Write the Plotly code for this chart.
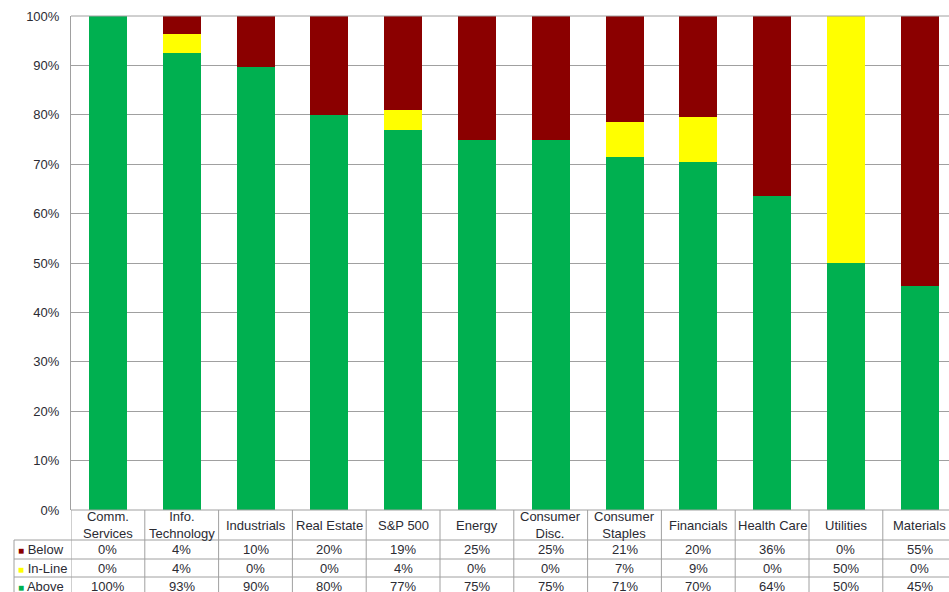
import plotly.graph_objects as go

categories = ["Comm. Services", "Info. Technology", "Industrials", "Real Estate", "S&P 500",
              "Energy", "Consumer Disc.", "Consumer Staples", "Financials", "Health Care",
              "Utilities", "Materials"]
header_labels = ["Comm.<br>Services", "Info.<br>Technology", "Industrials", "Real Estate", "S&P 500",
                 "Energy", "Consumer<br>Disc.", "Consumer<br>Staples", "Financials", "Health Care",
                 "Utilities", "Materials"]
above = [100.0, 92.6, 89.7, 80.0, 76.9, 75.0, 75.0, 71.4, 70.4, 63.6, 50.0, 45.4]
inline = [0.0, 3.7, 0.0, 0.0, 4.0, 0.0, 0.0, 7.2, 9.1, 0.0, 50.0, 0.0]
below = [0.0, 3.7, 10.3, 20.0, 19.1, 25.0, 25.0, 21.4, 20.4, 36.4, 0.0, 54.6]
y_ticks = [0, 10, 20, 30, 40, 50, 60, 70, 80, 90, 100]

GREEN = "#00B050"
YELLOW = "#FFFF00"
RED = "#8B0000"
GRID = "#A0A0A0"
TXT = "#2b2b33"
FONT = "Liberation Sans, Arial, sans-serif"
FS = 13

W, H = 949, 592
ML, MT, MB = 71, 16, 82
plot_h = H - MT - MB
plot_w = W - ML

x = list(range(len(categories)))
fig = go.Figure()
for name, vals, col in [("Above", above, GREEN), ("In-Line", inline, YELLOW), ("Below", below, RED)]:
    fig.add_trace(go.Bar(x=x, y=vals, name=name, marker=dict(color=col, line=dict(width=0)),
                         width=0.515, hoverinfo="y+name"))

xmax = -0.5 + plot_w / 73.8

fig.update_layout(
    width=W, height=H, barmode="stack", showlegend=False,
    margin=dict(l=ML, r=0, t=MT, b=MB),
    plot_bgcolor="white", paper_bgcolor="white",
    font=dict(family=FONT, size=FS, color=TXT),
    xaxis=dict(range=[-0.5, xmax], showticklabels=False, showgrid=False, zeroline=False,
               showline=False, fixedrange=True),
    yaxis=dict(range=[0, 100], tickvals=y_ticks, ticktext=[f"{v}%" for v in y_ticks],
               showgrid=True, gridcolor=GRID, gridwidth=1, zeroline=False,
               showline=True, linecolor=GRID, linewidth=1, ticks="", ticklen=0,
               ticklabelstandoff=8,
               tickfont=dict(size=FS, color=TXT), fixedrange=True),
)

shapes = []
def py2paper(py):
    return (H - MB - py) / plot_h

shapes.append(dict(type="line", xref="paper", yref="paper", x0=0, x1=1, y0=1, y1=1,
                   line=dict(color=GRID, width=1)))

lx = (14 - ML) / plot_w
row_edges_px = [510, 540, 559, 577, 600]
row_edges = [py2paper(p) for p in row_edges_px]
for i, yv in enumerate(row_edges):
    x0 = 0 if i == 0 else lx
    shapes.append(dict(type="line", xref="paper", yref="paper", x0=x0, x1=1.02, y0=yv, y1=yv,
                       line=dict(color=GRID, width=1)))
for i in range(len(categories) + 1):
    xv = i - 0.5
    shapes.append(dict(type="line", xref="x", yref="paper", x0=xv, x1=xv,
                       y0=row_edges[-1], y1=row_edges[0], line=dict(color=GRID, width=1)))
shapes.append(dict(type="line", xref="paper", yref="paper", x0=lx, x1=lx,
                   y0=row_edges[-1], y1=row_edges[1], line=dict(color=GRID, width=1)))

ann = []
for i, lab in enumerate(header_labels):
    ann.append(dict(x=i, y=(row_edges[0] + row_edges[1]) / 2, xref="x", yref="paper",
                    text=lab, showarrow=False, font=dict(size=FS, color=TXT),
                    xanchor="center", yanchor="middle"))

rows = [("Below", below, RED), ("In-Line", inline, YELLOW), ("Above", above, GREEN)]
for r, (name, vals, col) in enumerate(rows):
    yc = (row_edges[r + 1] + max(row_edges[r + 2], py2paper(596))) / 2
    ann.append(dict(x=lx + 2 / plot_w, y=yc, xref="paper", yref="paper",
                    text=f"<span style='color:{col};font-size:10px'>■</span> {name}",
                    showarrow=False, font=dict(size=FS, color=TXT), xanchor="left", yanchor="middle"))
    for i, v in enumerate(vals):
        ann.append(dict(x=i, y=yc, xref="x", yref="paper", text=f"{int(v + 0.5)}%",
                        showarrow=False, font=dict(size=FS, color=TXT),
                        xanchor="center", yanchor="middle"))

fig.update_layout(shapes=shapes, annotations=ann)
fig.write_html("out.html", config={"displayModeBar": False},
               post_script="document.body.style.margin='0';document.body.style.overflow='hidden';"
                           "document.documentElement.style.overflow='hidden';")
